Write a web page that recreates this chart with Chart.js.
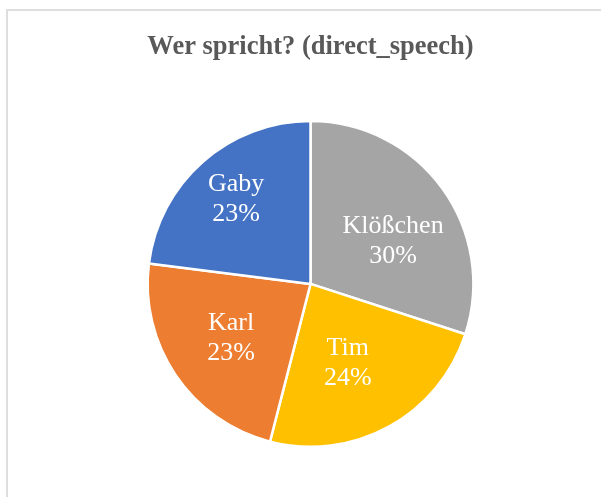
<!DOCTYPE html>
<html>
<head>
<meta charset="utf-8">
<script src="https://cdn.jsdelivr.net/npm/chart.js@4/dist/chart.umd.min.js"></script>
<style>
  html, body { margin: 0; padding: 0; background: #fff; overflow: hidden; }
  .wrap { position: relative; width: 601px; height: 497px; }
  .frame {
    position: absolute; left: 6px; top: 9px; width: 700px; height: 600px;
    border: 2px solid #dedede; box-sizing: border-box;
  }
  canvas { position: absolute; left: 0; top: 0; }
</style>
</head>
<body>
<div class="wrap">
  <div class="frame"></div>
  <canvas id="pieChart" width="601" height="497"></canvas>
</div>
<script>
// ===== DATA =====
const speakers = ['Klößchen', 'Tim', 'Karl', 'Gaby'];
const shares = [30, 24, 23, 23];
const sliceColors = ['#A5A5A5', '#FFC000', '#ED7D31', '#4472C4'];

// label placement: share of the radius, and a small turn (radians) off the slice middle
const labelRadius = [0.57, 0.54, 0.59, 0.69];
const labelTurn = [0.155, 0.065, 0, 0];

// ===== LABELS INSIDE THE SLICES =====
const sliceLabels = {
  id: 'sliceLabels',
  afterDatasetsDraw(chart) {
    const ctx = chart.ctx;
    const meta = chart.getDatasetMeta(0);
    const total = shares.reduce((a, b) => a + b, 0);
    ctx.save();
    ctx.fillStyle = '#fff';
    ctx.font = '26px "Liberation Serif", "Times New Roman", serif';
    ctx.textAlign = 'center';
    ctx.textBaseline = 'middle';
    meta.data.forEach((arc, i) => {
      const p = arc.getProps(['x', 'y', 'startAngle', 'endAngle', 'outerRadius'], true);
      const mid = (p.startAngle + p.endAngle) / 2 + labelTurn[i];
      const r = p.outerRadius * labelRadius[i];
      const cx = p.x + Math.cos(mid) * r;
      const cy = p.y + Math.sin(mid) * r;
      const pct = Math.round(shares[i] / total * 100) + '%';
      ctx.fillText(speakers[i], cx, cy - 15);
      ctx.fillText(pct, cx, cy + 15);
    });
    ctx.restore();
  }
};

const ctx = document.getElementById('pieChart').getContext('2d');
const pieChart = new Chart(ctx, {
  type: 'pie',
  data: {
    labels: speakers,
    datasets: [{
      data: shares,
      backgroundColor: sliceColors,
      borderColor: '#fff',
      borderWidth: 2.5
    }]
  },
  options: {
    responsive: false,
    animation: false,
    layout: {
      padding: { left: 20, right: 0, top: 0, bottom: 49 }
    },
    plugins: {
      legend: { display: false },
      tooltip: { enabled: false },
      title: {
        display: true,
        text: 'Wer spricht? (direct_speech)',
        color: '#595959',
        font: { family: '"Liberation Serif", "Times New Roman", serif', size: 26.5, weight: 'bold' },
        padding: { top: 31, bottom: 57 }
      }
    }
  },
  plugins: [sliceLabels]
});
</script>
</body>
</html>
